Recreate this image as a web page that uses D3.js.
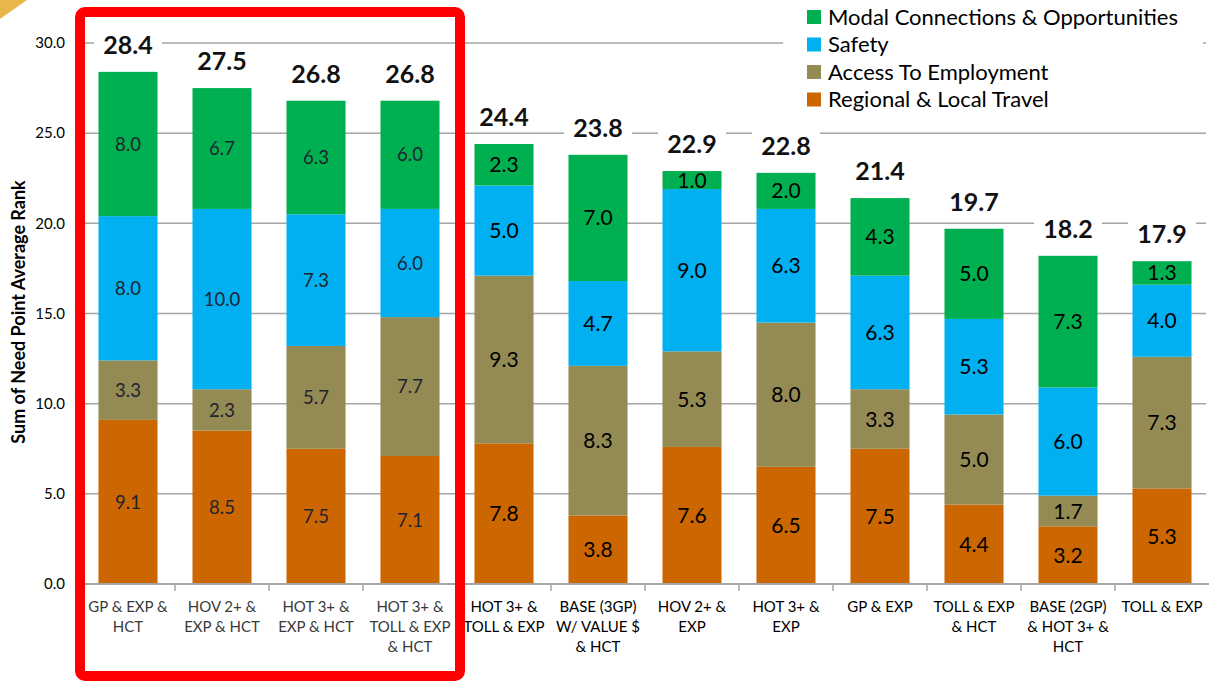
<!DOCTYPE html>
<html lang="en">
<head>
<meta charset="UTF-8">
<title>Need Point Rank</title>
<script src="https://d3js.org/d3.v7.min.js"></script>
<style>
  body { margin: 0; padding: 0; background: #fff; }
  svg { display: block; font-family: Lato, "Open Sans", sans-serif; }
</style>
</head>
<body>
<div id="chart"></div>
<script>
// categories (label lines) and series values, bottom segment first
const categories = [
  ["GP & EXP &", "HCT"],
  ["HOV 2+ &", "EXP & HCT"],
  ["HOT 3+ &", "EXP & HCT"],
  ["HOT 3+ &", "TOLL & EXP", "& HCT"],
  ["HOT 3+ &", "TOLL & EXP"],
  ["BASE (3GP)", "W/ VALUE $", "& HCT"],
  ["HOV 2+ &", "EXP"],
  ["HOT 3+ &", "EXP"],
  ["GP & EXP"],
  ["TOLL & EXP", "& HCT"],
  ["BASE (2GP)", "& HOT 3+ &", "HCT"],
  ["TOLL & EXP"]
];
const regional = [9.1, 8.5, 7.5, 7.1, 7.8, 3.8, 7.6, 6.5, 7.5, 4.4, 3.2, 5.3];
const access   = [3.3, 2.3, 5.7, 7.7, 9.3, 8.3, 5.3, 8.0, 3.3, 5.0, 1.7, 7.3];
const safety   = [8.0, 10.0, 7.3, 6.0, 5.0, 4.7, 9.0, 6.3, 6.3, 5.3, 6.0, 4.0];
const modal    = [8.0, 6.7, 6.3, 6.0, 2.3, 7.0, 1.0, 2.0, 4.3, 5.0, 7.3, 1.3];
const totals   = [28.4, 27.5, 26.8, 26.8, 24.4, 23.8, 22.9, 22.8, 21.4, 19.7, 18.2, 17.9];
const yTicks   = [0, 5, 10, 15, 20, 25, 30];
const seriesNames = ["Regional & Local Travel", "Access To Employment", "Safety", "Modal Connections & Opportunities"];
const seriesColors = ["#cc6600", "#948a54", "#00b0f0", "#00b050"];
const highlighted = 4; // first four bars sit inside the red box

const W = 1211, H = 681;
const svg = d3.select("#chart").append("svg").attr("width", W).attr("height", H);

// gold corner decoration
svg.append("path").attr("d", "M0,0 L27,0 L0,19 Z").attr("fill", "#e9b64c");

const x = d3.scaleBand().domain(d3.range(categories.length))
  .range([81, 1209]).paddingInner(0.372).paddingOuter(0.186);
const y = d3.scaleLinear().domain([0, 30]).range([584, 43]);

// gridlines
svg.append("g").selectAll("line").data(yTicks.filter(d => d > 0)).join("line")
  .attr("x1", 84).attr("x2", 1206)
  .attr("y1", d => y(d)).attr("y2", d => y(d))
  .attr("stroke", "#a6a6a6").attr("stroke-width", 1.5);

// y tick labels
svg.append("g").selectAll("text").data(yTicks).join("text")
  .attr("x", 65).attr("y", d => y(d)).attr("dy", "0.35em")
  .attr("text-anchor", "end").attr("font-size", 15).attr("fill", "#000")
  .text(d => d.toFixed(1));

// y title
svg.append("text")
  .attr("transform", "translate(25,312) rotate(-90)")
  .attr("text-anchor", "middle").attr("font-size", 18).attr("font-weight", "bold")
  .text("Sum of Need Point Average Rank");

// stacked data
const rows = categories.map((c, i) => [regional[i], access[i], safety[i], modal[i]]);
const stackData = rows.map((r, i) => {
  let base = 0;
  return r.map((v, k) => { const s = { i, k, v, y0: base, y1: base + v }; base += v; return s; });
});

const bars = svg.append("g");
stackData.forEach(col => {
  const g = bars.append("g");
  g.selectAll("rect").data(col).join("rect")
    .attr("x", d => x(d.i)).attr("width", x.bandwidth())
    .attr("y", d => y(d.y1)).attr("height", d => y(d.y0) - y(d.y1))
    .attr("fill", d => seriesColors[d.k]);
  g.selectAll("text").data(col).join("text")
    .attr("x", d => x(d.i) + x.bandwidth() / 2)
    .attr("y", d => (y(d.y0) + y(d.y1)) / 2).attr("dy", "0.36em")
    .attr("text-anchor", "middle")
    .attr("font-size", d => d.i < highlighted ? 18.5 : 21)
    .attr("fill", d => d.i < highlighted ? "#1f2430" : "#000")
    .text(d => d.v.toFixed(1));
});

// total labels with white background
const tot = svg.append("g").selectAll("g").data(totals).join("g")
  .attr("transform", (d, i) => `translate(${x(i) + x.bandwidth() / 2},${y(d) - 27})`);
tot.append("rect").attr("x", -34).attr("y", -14).attr("width", 68).attr("height", 28).attr("fill", "#fff");
tot.append("text").attr("text-anchor", "middle").attr("dy", "0.36em")
  .attr("font-size", 25).attr("font-weight", "bold").attr("fill", "#111")
  .text(d => d.toFixed(1));

// x axis line + ticks
svg.append("line").attr("x1", 81).attr("x2", 1209).attr("y1", 584).attr("y2", 584)
  .attr("stroke", "#a6a6a6").attr("stroke-width", 2);
svg.append("g").selectAll("line").data(d3.range(1, categories.length)).join("line")
  .attr("x1", i => x(i) - x.step() * x.paddingInner() / 2)
  .attr("x2", i => x(i) - x.step() * x.paddingInner() / 2)
  .attr("y1", 584).attr("y2", 591).attr("stroke", "#a6a6a6").attr("stroke-width", 1.5);

// x labels
const xl = svg.append("g").selectAll("text").data(categories).join("text")
  .attr("text-anchor", "middle")
  .attr("font-size", 15)
  .attr("fill", (d, i) => i < highlighted ? "#3a3a3a" : "#000")
  .attr("transform", (d, i) => `translate(${x(i) + x.bandwidth() / 2},612)`);
xl.selectAll("tspan").data(d => d).join("tspan")
  .attr("x", 0).attr("dy", (d, j) => j ? 20 : 0).text(d => d);

// legend
const lg = svg.append("g");
lg.append("rect").attr("x", 783).attr("y", 0).attr("width", 420).attr("height", 116).attr("fill", "#fff");
const legendOrder = [3, 2, 1, 0];
const li = lg.selectAll("g").data(legendOrder).join("g")
  .attr("transform", (d, j) => `translate(807,${17 + j * 27.5})`);
li.append("rect").attr("x", 0).attr("y", -7).attr("width", 14).attr("height", 14)
  .attr("fill", d => seriesColors[d]);
li.append("text").attr("x", 21).attr("dy", "0.36em").attr("font-size", 22).attr("fill", "#000")
  .text(d => seriesNames[d]);

// red highlight box
svg.append("rect").attr("x", 80).attr("y", 12).attr("width", 380).attr("height", 664)
  .attr("rx", 5).attr("fill", "none").attr("stroke", "#ff0000").attr("stroke-width", 10);
</script>
</body>
</html>
